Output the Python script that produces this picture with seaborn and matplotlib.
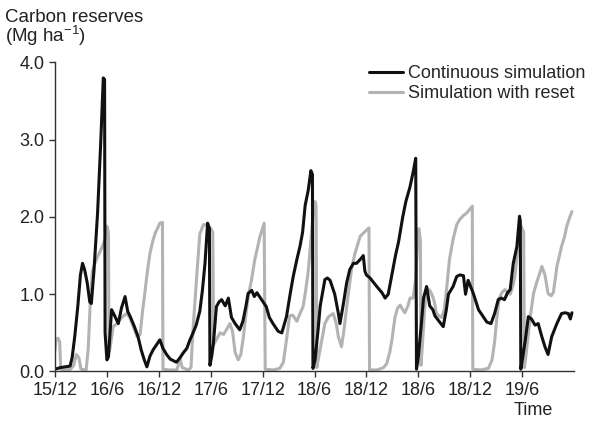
import pandas as pd
import matplotlib
matplotlib.use("Agg")
import matplotlib.pyplot as plt
import seaborn as sns

# time in half-year steps since Dec 2015 (0 = 15/12, 1 = 16/6, ...)
cont_t = [0.0, 0.1, 0.2, 0.29, 0.33, 0.38, 0.44, 0.49, 0.53, 0.57, 0.62, 0.67, 0.70, 0.75,
          0.82, 0.88, 0.93, 0.955, 0.965, 1.0, 1.03, 1.09, 1.15, 1.22, 1.28, 1.35, 1.40, 1.45,
          1.53, 1.60, 1.66, 1.72, 1.77, 1.83, 1.89, 1.95, 2.02, 2.08, 2.15, 2.22, 2.34, 2.41,
          2.47, 2.54, 2.60, 2.66, 2.72, 2.79, 2.84, 2.89, 2.94, 2.975, 2.985, 3.02, 3.05, 3.11,
          3.16, 3.21, 3.28, 3.34, 3.40, 3.47, 3.56, 3.62, 3.68, 3.72, 3.79, 3.84, 3.89, 3.98,
          4.07, 4.13, 4.20, 4.30, 4.37, 4.46, 4.53, 4.59, 4.66, 4.72, 4.77, 4.82, 4.88, 4.93,
          4.96, 4.97, 5.01, 5.07, 5.11, 5.20, 5.25, 5.30, 5.39, 5.46, 5.49, 5.55, 5.62, 5.68,
          5.75, 5.81, 5.88, 5.94, 5.97, 6.00, 6.07, 6.20, 6.30, 6.36, 6.42, 6.49, 6.56, 6.62,
          6.70, 6.76, 6.84, 6.90, 6.95, 6.965, 7.0, 7.05, 7.10, 7.16, 7.22, 7.28, 7.32, 7.40,
          7.48, 7.54, 7.58, 7.67, 7.74, 7.80, 7.87, 7.91, 7.96, 8.06, 8.16, 8.25, 8.32, 8.40,
          8.47, 8.54, 8.60, 8.66, 8.72, 8.77, 8.83, 8.90, 8.95, 8.965, 8.975, 9.02, 9.06, 9.12,
          9.18, 9.25, 9.31, 9.38, 9.44, 9.50, 9.57, 9.67, 9.76, 9.83, 9.89, 9.93, 9.96]
cont_v = [0.03, 0.05, 0.06, 0.07, 0.18, 0.45, 0.85, 1.25, 1.40, 1.32, 1.15, 0.90, 0.88, 1.30,
          2.05, 2.95, 3.80, 3.78, 0.50, 0.15, 0.19, 0.80, 0.72, 0.62, 0.82, 0.97, 0.78, 0.71,
          0.58, 0.45, 0.28, 0.15, 0.06, 0.20, 0.28, 0.34, 0.41, 0.30, 0.22, 0.16, 0.12, 0.18,
          0.24, 0.30, 0.41, 0.50, 0.60, 0.78, 1.05, 1.40, 1.92, 1.85, 0.08, 0.20, 0.35, 0.84,
          0.90, 0.93, 0.85, 0.95, 0.70, 0.62, 0.54, 0.65, 0.85, 1.01, 1.05, 0.97, 1.02, 0.93,
          0.84, 0.70, 0.62, 0.52, 0.50, 0.71, 1.00, 1.23, 1.45, 1.62, 1.80, 2.15, 2.35, 2.60,
          2.55, 0.04, 0.15, 0.55, 0.85, 1.19, 1.21, 1.18, 1.00, 0.75, 0.62, 0.85, 1.15, 1.32,
          1.40, 1.40, 1.45, 1.50, 1.30, 1.25, 1.21, 1.10, 1.02, 0.95, 1.00, 1.25, 1.50, 1.68,
          2.00, 2.20, 2.39, 2.58, 2.76, 0.03, 0.19, 0.55, 0.95, 1.10, 0.85, 0.80, 0.72, 0.65,
          0.58, 0.80, 1.00, 1.10, 1.23, 1.25, 1.24, 1.00, 1.18, 1.01, 0.80, 0.71, 0.64, 0.62,
          0.75, 0.93, 0.95, 0.93, 1.02, 1.06, 1.40, 1.62, 2.01, 1.95, 0.03, 0.22, 0.40, 0.71,
          0.68, 0.60, 0.62, 0.45, 0.32, 0.22, 0.45, 0.62, 0.75, 0.76, 0.75, 0.68, 0.76]

reset_t = [0.0, 0.02, 0.06, 0.09, 0.11, 0.2, 0.3, 0.36, 0.41, 0.46, 0.5, 0.6, 0.64, 0.68,
           0.72, 0.77, 0.83, 0.90, 0.96, 1.00, 1.03, 1.04, 1.06, 1.12, 1.19, 1.25, 1.32, 1.38,
           1.44, 1.51, 1.58, 1.64, 1.69, 1.73, 1.78, 1.83, 1.88, 1.93, 1.98, 2.02, 2.07, 2.08,
           2.2, 2.35, 2.41, 2.45, 2.57, 2.62, 2.66, 2.70, 2.73, 2.76, 2.79, 2.86, 2.92, 2.99,
           3.04, 3.055, 3.10, 3.18, 3.25, 3.31, 3.37, 3.42, 3.47, 3.53, 3.58, 3.63, 3.68, 3.73,
           3.79, 3.85, 3.90, 3.95, 4.03, 4.05, 4.2, 4.33, 4.40, 4.46, 4.52, 4.58, 4.66, 4.72,
           4.78, 4.83, 4.88, 4.93, 4.98, 5.01, 5.03, 5.045, 5.07, 5.14, 5.20, 5.27, 5.36, 5.42,
           5.46, 5.52, 5.56, 5.59, 5.65, 5.72, 5.78, 5.88, 5.97, 6.05, 6.06, 6.2, 6.33, 6.39,
           6.45, 6.49, 6.55, 6.60, 6.65, 6.70, 6.74, 6.80, 6.84, 6.90, 6.95, 6.99, 7.01, 7.04,
           7.05, 7.08, 7.12, 7.16, 7.22, 7.26, 7.31, 7.35, 7.40, 7.45, 7.50, 7.55, 7.60, 7.67,
           7.74, 7.80, 7.87, 7.93, 7.99, 8.04, 8.05, 8.2, 8.35, 8.42, 8.47, 8.51, 8.56, 8.62,
           8.67, 8.72, 8.77, 8.82, 8.86, 8.92, 8.96, 9.00, 9.03, 9.045, 9.08, 9.15, 9.22, 9.28,
           9.33, 9.38, 9.44, 9.50, 9.56, 9.60, 9.64, 9.67, 9.72, 9.76, 9.82, 9.86, 9.92, 9.96]
reset_v = [0.28, 0.42, 0.43, 0.38, 0.03, 0.02, 0.03, 0.08, 0.22, 0.18, 0.03, 0.02, 0.30, 0.90,
           1.30, 1.40, 1.50, 1.60, 1.70, 1.88, 1.80, 0.25, 0.30, 0.58, 0.62, 0.67, 0.72, 0.75,
           0.70, 0.58, 0.45, 0.48, 0.80, 1.01, 1.30, 1.53, 1.68, 1.79, 1.86, 1.92, 1.93, 0.03,
           0.02, 0.02, 0.17, 0.05, 0.02, 0.05, 0.55, 0.95, 1.23, 1.50, 1.78, 1.90, 1.90, 1.86,
           1.80, 0.35, 0.40, 0.50, 0.48, 0.55, 0.62, 0.52, 0.25, 0.15, 0.22, 0.45, 0.75, 1.00,
           1.20, 1.45, 1.60, 1.75, 1.92, 0.03, 0.02, 0.04, 0.12, 0.41, 0.72, 0.73, 0.65, 0.75,
           0.84, 1.05, 1.30, 1.70, 2.10, 2.20, 2.15, 0.05, 0.15, 0.40, 0.62, 0.71, 0.75, 0.62,
           0.45, 0.32, 0.50, 0.67, 1.00, 1.35, 1.53, 1.75, 1.81, 1.86, 0.02, 0.02, 0.05, 0.10,
           0.25, 0.40, 0.70, 0.82, 0.86, 0.80, 0.76, 0.85, 0.95, 0.95, 1.20, 1.75, 1.85, 1.70,
           0.08, 0.35, 0.80, 1.08, 1.05, 1.00, 0.90, 0.75, 0.72, 0.70, 0.80, 1.10, 1.45, 1.71,
           1.90, 1.97, 2.02, 2.05, 2.10, 2.14, 0.03, 0.02, 0.04, 0.15, 0.38, 0.67, 0.95, 1.03,
           1.06, 1.02, 1.00, 1.10, 1.23, 1.60, 1.92, 1.85, 1.80, 0.05, 0.24, 0.67, 1.01, 1.15,
           1.25, 1.36, 1.25, 1.01, 0.98, 1.02, 1.20, 1.36, 1.50, 1.62, 1.75, 1.88, 2.00, 2.07]

tick_labels = ['15/12', '16/6', '16/12', '17/6', '17/12', '18/6', '18/12', '18/6', '18/12', '19/6']
series_names = ['Continuous simulation', 'Simulation with reset']

df = pd.concat([
    pd.DataFrame({'time': cont_t, 'carbon': cont_v, 'series': series_names[0]}),
    pd.DataFrame({'time': reset_t, 'carbon': reset_v, 'series': series_names[1]}),
])

sns.set_style('ticks')
plt.rcParams['font.family'] = ['Liberation Sans', 'DejaVu Sans']
plt.rcParams['mathtext.fontset'] = 'custom'
plt.rcParams['mathtext.rm'] = 'Liberation Sans'
plt.rcParams['mathtext.it'] = 'Liberation Sans'

fig = plt.figure(figsize=(5.96, 4.21), dpi=100)
ax = fig.add_axes([0.0923, 0.1176, 0.8708, 0.734])

# grey first so the black line sits on top
sns.lineplot(data=df[df.series == series_names[1]], x='time', y='carbon', color='#b3b3b3',
             lw=2.2, estimator=None, sort=False, ax=ax, label=series_names[1])
sns.lineplot(data=df[df.series == series_names[0]], x='time', y='carbon', color='#111111',
             lw=2.2, estimator=None, sort=False, ax=ax, label=series_names[0])

ax.set_xlim(0, 10)
ax.set_ylim(0, 4)
ax.set_xticks(range(len(tick_labels)))
ax.set_xticklabels(tick_labels)
ax.set_yticks([0, 1, 2, 3, 4])
ax.set_yticklabels(['0.0', '1.0', '2.0', '3.0', '4.0'])
ax.set_xlabel('')
ax.set_ylabel('')
ax.tick_params(labelsize=13, length=4, width=1, color='#333333', labelcolor='#222222')
for s in ['top', 'right']:
    ax.spines[s].set_visible(False)
for s in ['left', 'bottom']:
    ax.spines[s].set_linewidth(1)
    ax.spines[s].set_color('#333333')

handles, labels = ax.get_legend_handles_labels()
ax.legend(handles[::-1], labels[::-1], loc='upper right', bbox_to_anchor=(0.995, 0.862),
          bbox_transform=fig.transFigure, frameon=False, fontsize=13, handlelength=1.9,
          handletextpad=0.3, labelspacing=0.15, borderaxespad=0)

fig.text(0.008, 0.9485, 'Carbon reserves', ha='left', va='baseline', fontsize=13.5,
         color='#222222')
fig.text(0.008, 0.901, '(Mg ha$^{-1}$)', ha='left', va='baseline', fontsize=13.5,
         color='#222222')
fig.text(0.928, 0.026, 'Time', ha='right', va='center', fontsize=13, color='#222222')

fig.savefig('out.png', dpi=100)
